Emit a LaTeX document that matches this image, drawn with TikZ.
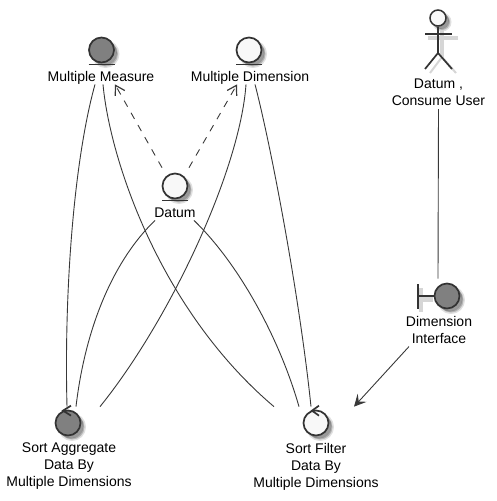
\documentclass[tikz,border=0pt]{standalone}
\usepackage{fontspec}
\setmainfont{Liberation Sans}
\usepackage{xcolor}
\usetikzlibrary{arrows.meta}
\definecolor{edge}{HTML}{383838}
\definecolor{rim}{HTML}{333333}
\definecolor{pale}{HTML}{F8F8F8}
\definecolor{dark}{HTML}{808080}

\begin{document}
\begin{tikzpicture}[
    x=1pt, y=-1pt,
    %% ── Node styles ─────────────────────────────────────────────
    softshade/.style={
        preaction={draw=black, line width=3pt, draw opacity=.12, fill=black, fill opacity=.2,
                   transform canvas={xshift=4pt, yshift=-4pt}},
        preaction={fill=black, fill opacity=.25, transform canvas={xshift=3pt, yshift=-3pt}}},
    ball/.style  ={circle, draw=rim, line width=1.7pt, minimum size=25pt, inner sep=0pt, softshade},
    paleball/.style={ball, fill=pale},
    darkball/.style={ball, fill=dark},
    head/.style  ={circle, draw=rim, line width=1.5pt, minimum size=16pt, inner sep=0pt, fill=pale, softshade},
    lbl/.style   ={anchor=north, align=center, inner sep=0pt,
                   execute at begin node={\rule{0pt}{11pt}}, execute at end node={\rule[-3pt]{0pt}{3pt}},
                   font=\fontsize{14}{17}\selectfont},
    stroke/.style={draw=rim, line width=1.7pt},
    haze/.style  ={draw=black!16, line width=3.5pt},
    link/.style  ={draw=edge, line width=.9pt},
    dep/.style   ={link, dash pattern=on 7pt off 7pt, -{Straight Barb[length=9pt, width=11pt, line width=1.2pt]}},
    arr/.style   ={link, -{Stealth[length=12pt, width=12pt, inset=5pt]}}
]
    \useasboundingbox (0,0) rectangle (496,501);

    %% ── Nodes ──────────────────────────────────────────────────
    \node[darkball] (measure)  at (101.5, 50) {};
    \node[paleball] (dimens)   at (249,   50) {};
    \node[paleball] (datum)    at (175,  186) {};
    \node[head]     (userhead) at (438,   18) {};
    \node[darkball] (iface)    at (447,  296) {};
    \node[darkball] (sortagg)  at (68,   423) {};
    \node[paleball] (sortfilt) at (316,  423) {};

    \node[lbl] (measurelbl)  at (101,  70)  {Multiple Measure};
    \node[lbl] (dimenslbl)   at (250,  70)  {Multiple Dimension};
    \node[lbl] (datumlbl)    at (175,  206) {Datum};
    \node[lbl] (userlbl)     at (438.5, 79) {Datum ,\\Consume User};
    \node[lbl] (ifacelbl)    at (439,  316) {Dimension\\Interface};
    \node[lbl] (sortagglbl)  at (69,   443) {Sort Aggregate\\Data By\\Multiple Dimensions};
    \node[lbl] (sortfiltlbl) at (316,  443) {Sort Filter\\Data By\\Multiple Dimensions};

    %% ── Entity bars, boundary bar, control heads ────────────────
    \draw[stroke] ([xshift=-13pt]measure.south) ++(0,1) -- ++(26,0);
    \draw[stroke] ([xshift=-13pt]dimens.south)  ++(0,1) -- ++(26,0);
    \draw[stroke] ([xshift=-13pt]datum.south)   ++(0,1) -- ++(26,0);

    \draw[haze, line width=6pt] (422,299) -- (433,299);
    \draw[haze, line width=3.5pt] (421,288) -- (421,312);
    \draw[stroke] (418,284) -- (418,309);
    \draw[stroke] (418,296) -- (iface.west);

    \draw[stroke] ([shift={(3,-4)}]sortagg.north)  -- ([shift={(-5,1)}]sortagg.north)  -- ([shift={(3,6)}]sortagg.north);
    \draw[stroke] ([shift={(3,-4)}]sortfilt.north) -- ([shift={(-4,1)}]sortfilt.north) -- ([shift={(3,6)}]sortfilt.north);

    %% ── Actor figure ────────────────────────────────────────────
    \draw[haze] (428,38) -- (458,38);
    \draw[haze] (442,30) -- (442,57);
    \draw[haze, line width=2pt] (442,57) -- (430,73);
    \draw[haze, line width=2pt] (442,57) -- (456,73);
    \draw[stroke] (userhead.south) -- (438,53);
    \draw[stroke] (425,34) -- (452,34);
    \draw[stroke] (425,69) -- (438,53) -- (452,69);

    %% ── Arrows ──────────────────────────────────────────────────
    \draw[dep] ([shift={(-13,-5)}]datum.north) -- ([xshift=14pt]measurelbl.south);
    \draw[dep] ([shift={(14,-5)}]datum.north)  -- ([xshift=-13pt]dimenslbl.south);

    \draw[link] ([xshift=-6pt]measurelbl.south) .. controls (74,160) and (64,290) .. ([shift={(-1,-3)}]sortagg.north);
    \draw[link] ([xshift=2pt]measurelbl.south)  .. controls (110,160) and (160,310) .. ([shift={(-42,-3)}]sortfilt.north);
    \draw[link] ([xshift=-20pt]datumlbl.south)  .. controls (112,262) and (85,330) .. ([shift={(8,-3)}]sortagg.north);
    \draw[link] ([xshift=19pt]datumlbl.south)   .. controls (240,265) and (280,340) .. ([shift={(-17,-3)}]sortfilt.north);
    \draw[link] ([xshift=-4pt]dimenslbl.south)  .. controls (240,170) and (170,320) .. ([shift={(32,-3)}]sortagg.north);
    \draw[link] ([xshift=5pt]dimenslbl.south)   .. controls (272,150) and (300,300) .. ([shift={(-5,-3)}]sortfilt.north);

    \draw[link] (userlbl.south) -- ([shift={(-9,-4)}]iface.north);
    \draw[arr]  ([xshift=-30pt]ifacelbl.south) -- ([shift={(38,-3)}]sortfilt.north);

\end{tikzpicture}
\end{document}
